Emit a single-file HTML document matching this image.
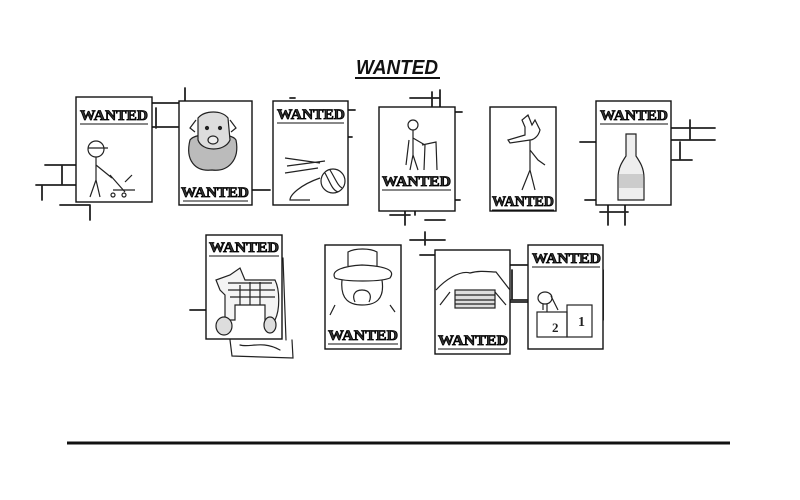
<!DOCTYPE html>
<html><head><meta charset="utf-8"><style>
html,body{margin:0;padding:0;background:#fff;width:800px;height:500px;overflow:hidden}
.w{font-family:"Liberation Serif",serif;font-weight:bold;font-size:15px;fill:#333;stroke:#000;stroke-width:0.8px}
</style></head><body>
<svg width="800" height="500" viewBox="0 0 800 500" xmlns="http://www.w3.org/2000/svg">
<g fill="none" stroke="#222" stroke-width="1.8" stroke-linecap="round">
<path d="M45 165 H78 M36 185 H78 M62 165 V185 M42 185 V200 M60 205 H90 M90 205 V220"/>
<path d="M150 127 H178 M156 108 V128 M145 103 H180 M185 88 V102"/>
<path d="M252 190 H270 M345 110 H355 M345 137 H352 M290 98 H295"/>
<path d="M410 98 H440 M432 92 V106 M440 95 V112 M455 112 H462 M440 95 V90"/>
<path d="M390 215 H410 M405 202 V225 M425 220 H445 M450 200 H460 M415 208 V215"/>
<path d="M670 128 H715 M690 120 V140 M670 140 H715 M680 142 V160 M672 160 H692 M600 212 H628 M608 205 V225 M625 205 V225 M585 200 H598 M580 142 H596"/>
<path d="M190 310 H206 M410 240 H445 M425 232 V245 M420 255 H450 M503 265 H527 M512 270 V300 M503 300 H527 M510 302 H530 M603 270 V320"/>
<path d="M230 340 L232 356 L293 358 L292 340 M283 258 L286 340 M240 345 C250 348 262 340 280 350" stroke-width="1.2"/>
</g>
<text x="397" y="74" text-anchor="middle" font-family="Liberation Sans,sans-serif" font-style="italic" font-weight="bold" font-size="20" textLength="82" lengthAdjust="spacingAndGlyphs" fill="#111">WANTED</text>
<line x1="355" y1="78" x2="440" y2="78" stroke="#111" stroke-width="2"/>
<line x1="67" y1="443" x2="730" y2="443" stroke="#111" stroke-width="3"/>

<g fill="#fff" stroke="#111" stroke-width="1.4">
<rect x="76" y="97" width="76" height="105"/>
<rect x="179" y="101" width="73" height="104"/>
<rect x="273" y="101" width="75" height="104"/>
<rect x="379" y="107" width="76" height="104"/>
<rect x="490" y="107" width="66" height="104"/>
<rect x="596" y="101" width="75" height="104"/>
<rect x="206" y="235" width="76" height="104"/>
<rect x="325" y="245" width="76" height="104"/>
<rect x="435" y="250" width="75" height="104"/>
<rect x="528" y="245" width="75" height="104"/>
</g>
<g>
<text class="w" x="80" y="120" textLength="68" lengthAdjust="spacingAndGlyphs">WANTED</text>
<text class="w" x="181" y="197" textLength="68" lengthAdjust="spacingAndGlyphs">WANTED</text>
<text class="w" x="277" y="119" textLength="68" lengthAdjust="spacingAndGlyphs">WANTED</text>
<text class="w" x="382" y="186" textLength="69" lengthAdjust="spacingAndGlyphs">WANTED</text>
<text class="w" x="492" y="206" textLength="62" lengthAdjust="spacingAndGlyphs">WANTED</text>
<text class="w" x="600" y="120" textLength="68" lengthAdjust="spacingAndGlyphs">WANTED</text>
<text class="w" x="209" y="252" textLength="70" lengthAdjust="spacingAndGlyphs">WANTED</text>
<text class="w" x="328" y="340" textLength="70" lengthAdjust="spacingAndGlyphs">WANTED</text>
<text class="w" x="438" y="345" textLength="70" lengthAdjust="spacingAndGlyphs">WANTED</text>
<text class="w" x="532" y="263" textLength="69" lengthAdjust="spacingAndGlyphs">WANTED</text>
</g>
<g stroke="#111" stroke-width="1" fill="none">
<path d="M80 124 H148 M183 201 H248 M277 123 H344 M382 190 H451 M492 210 H554 M600 124 H668 M209 256 H279 M328 344 H398 M438 349 H507 M532 267 H600"/>
</g>
<g fill="none" stroke="#222" stroke-width="1.2">
<circle cx="96" cy="149" r="8"/><path d="M88 148 H108 M96 157 V180 L90 197 M96 180 L100 197 M96 165 L112 178"/>
<path d="M110 175 L125 192 M113 190 H135 M125 182 L132 175"/><circle cx="113" cy="195" r="2"/><circle cx="124" cy="195" r="2"/>
<!-- dog -->
<path d="M190 140 C185 160 195 172 212 170 C228 172 240 160 236 140 C232 132 195 132 190 140 Z" fill="#bbb"/>
<path d="M198 118 C205 110 222 110 228 118 L230 140 C225 152 202 152 198 140 Z" fill="#ddd"/>
<path d="M196 120 L190 128 L195 132 M230 120 L236 128 L231 132"/>
<circle cx="207" cy="128" r="1.5" fill="#222"/><circle cx="220" cy="128" r="1.5" fill="#222"/>
<ellipse cx="213" cy="140" rx="5" ry="4" fill="#eee"/>
<path d="M285 158 L320 163 M287 166 L325 161 M285 173 L318 168"/>
<circle cx="333" cy="181" r="12"/><path d="M325 173 C330 182 332 190 338 192 M330 170 C336 180 338 186 342 188"/>
<path d="M320 178 C300 185 290 195 290 200 H310"/>
<circle cx="413" cy="125" r="5"/><path d="M413 130 V155 L410 170 M413 155 L418 170 M413 138 L425 145 M422 145 L436 142 L437 170 M425 145 L424 170 M409 140 L406 165"/>
<path d="M525 127 L522 120 L528 115 L532 125 L535 120 L540 130 C538 138 532 140 530 140 L510 143 L508 140 L525 135 Z M530 140 V170 L522 190 M530 170 L535 190 M530 150 L538 160 L545 165"/>
<path d="M626 134 H636 V156 C640 162 644 168 644 178 V200 H618 V178 C618 168 622 162 626 156 Z" fill="#eee"/>
<rect x="619" y="174" width="24" height="14" fill="#ccc" stroke="none"/>
<path d="M220 290 L216 280 L230 275 L240 268 L245 280 H275 C280 290 280 310 275 320 H265 V305 H235 V320 H225 V295 Z" fill="#f4f4f4"/>
<path d="M228 283 H272 M228 290 H275 M230 297 H275 M240 285 V305 M250 282 V305 M260 282 V305"/>
<ellipse cx="224" cy="326" rx="8" ry="9" fill="#ddd"/><ellipse cx="270" cy="325" rx="6" ry="8" fill="#ddd"/>
<path d="M335 278 C330 270 345 266 362 265 C385 266 396 270 390 278 C380 282 345 282 335 278 Z M348 266 V252 C355 248 370 248 377 252 V266 M342 280 C340 300 350 305 362 305 C375 305 385 300 382 280 M355 302 C352 296 354 290 362 290 C370 290 372 296 369 302 M335 305 L330 315 M390 305 L395 312"/>
<path d="M436 290 C445 280 460 270 470 273 C480 270 490 272 496 272 L510 290 M450 292 L440 305 M495 292 L506 305"/>
<rect x="455" y="290" width="40" height="18" fill="#ddd"/><path d="M455 295 H495 M455 300 H495 M455 304 H495"/>
<ellipse cx="545" cy="298" rx="7" ry="6"/><path d="M551 296 L558 310 M543 304 V310 M547 304 V312"/>
<rect x="537" y="312" width="30" height="25"/><rect x="567" y="305" width="25" height="32"/>
</g>
<text x="552" y="332" font-family="Liberation Serif,serif" font-weight="bold" font-size="13" fill="#222">2</text>
<text x="578" y="326" font-family="Liberation Serif,serif" font-weight="bold" font-size="14" fill="#222">1</text>
</svg>
</body></html>
